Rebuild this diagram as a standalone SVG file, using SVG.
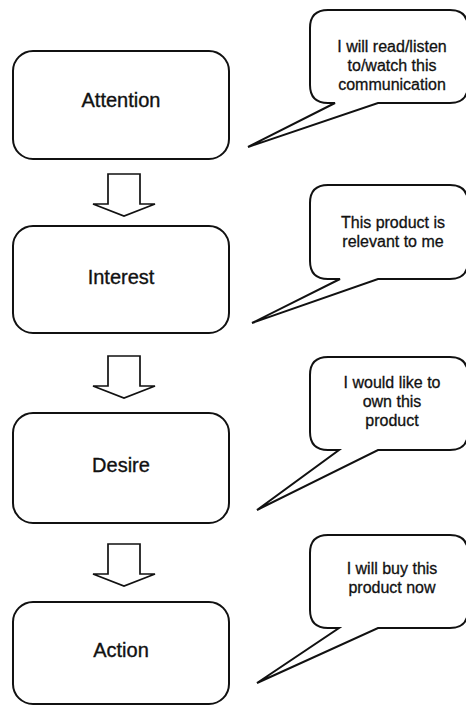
<svg xmlns="http://www.w3.org/2000/svg" width="466" height="706" viewBox="0 0 466 706">
<style>
.box{fill:#fff;stroke:#111;stroke-width:2}
.call{fill:#fff;stroke:#111;stroke-width:2;stroke-linejoin:miter}
.arr{fill:#fff;stroke:#111;stroke-width:1.7;stroke-linejoin:miter}
.bt{font-family:"Liberation Sans",Arial,sans-serif;font-size:20px;fill:#111;stroke:#111;stroke-width:0.35;text-anchor:middle}
.ct{font-family:"Liberation Sans",Arial,sans-serif;font-size:16px;fill:#111;stroke:#111;stroke-width:0.3;text-anchor:middle}
</style>
<rect width="466" height="706" fill="#fff"/>
<g id="connectors">
<polygon class="arr" points="108,174 140,174 140,204 155,204 124,216 93,204 108,204"/>
<polygon class="arr" points="108,356 140,356 140,386 155,386 124,398 93,386 108,386"/>
<polygon class="arr" points="108,544 140,544 140,574 155,574 124,586 93,574 108,574"/>
</g>
<g id="attention">
<rect class="box" x="13" y="51" width="216" height="108" rx="20"/>
<text class="bt" x="121" y="107">Attention</text>
</g>
<g id="interest">
<rect class="box" x="13" y="226" width="216" height="107" rx="20"/>
<text class="bt" x="121" y="284">Interest</text>
</g>
<g id="desire">
<rect class="box" x="13" y="413" width="216" height="110" rx="20"/>
<text class="bt" x="121" y="472">Desire</text>
</g>
<g id="action">
<rect class="box" x="13" y="602" width="216" height="102" rx="20"/>
<text class="bt" x="121" y="657">Action</text>
</g>
<g id="callout-attention">
<path class="call" d="M328,10 H450 Q468,10 468,28 V85 Q468,103 450,103 H378 L248,147 L335,103 H328 Q310,103 310,85 V28 Q310,10 328,10 Z"/>
<text class="ct" x="392" y="52">I will read/listen</text>
<text class="ct" x="392" y="71">to/watch this</text>
<text class="ct" x="392" y="90">communication</text>
</g>
<g id="callout-interest">
<path class="call" d="M328,185 H450 Q468,185 468,203 V261 Q468,279 450,279 H378 L252,323 L340,279 H328 Q310,279 310,261 V203 Q310,185 328,185 Z"/>
<text class="ct" x="393" y="228">This product is</text>
<text class="ct" x="393" y="247">relevant to me</text>
</g>
<g id="callout-desire">
<path class="call" d="M328,357 H450 Q468,357 468,375 V432 Q468,450 450,450 H378 L257,510 L339,450 H328 Q310,450 310,432 V375 Q310,357 328,357 Z"/>
<text class="ct" x="392" y="388">I would like to</text>
<text class="ct" x="392" y="407">own this</text>
<text class="ct" x="392" y="426">product</text>
</g>
<g id="callout-action">
<path class="call" d="M328,535 H450 Q468,535 468,553 V610 Q468,628 450,628 H378 L257,683 L339,628 H328 Q310,628 310,610 V553 Q310,535 328,535 Z"/>
<text class="ct" x="392" y="574">I will buy this</text>
<text class="ct" x="392" y="593">product now</text>
</g>
</svg>
